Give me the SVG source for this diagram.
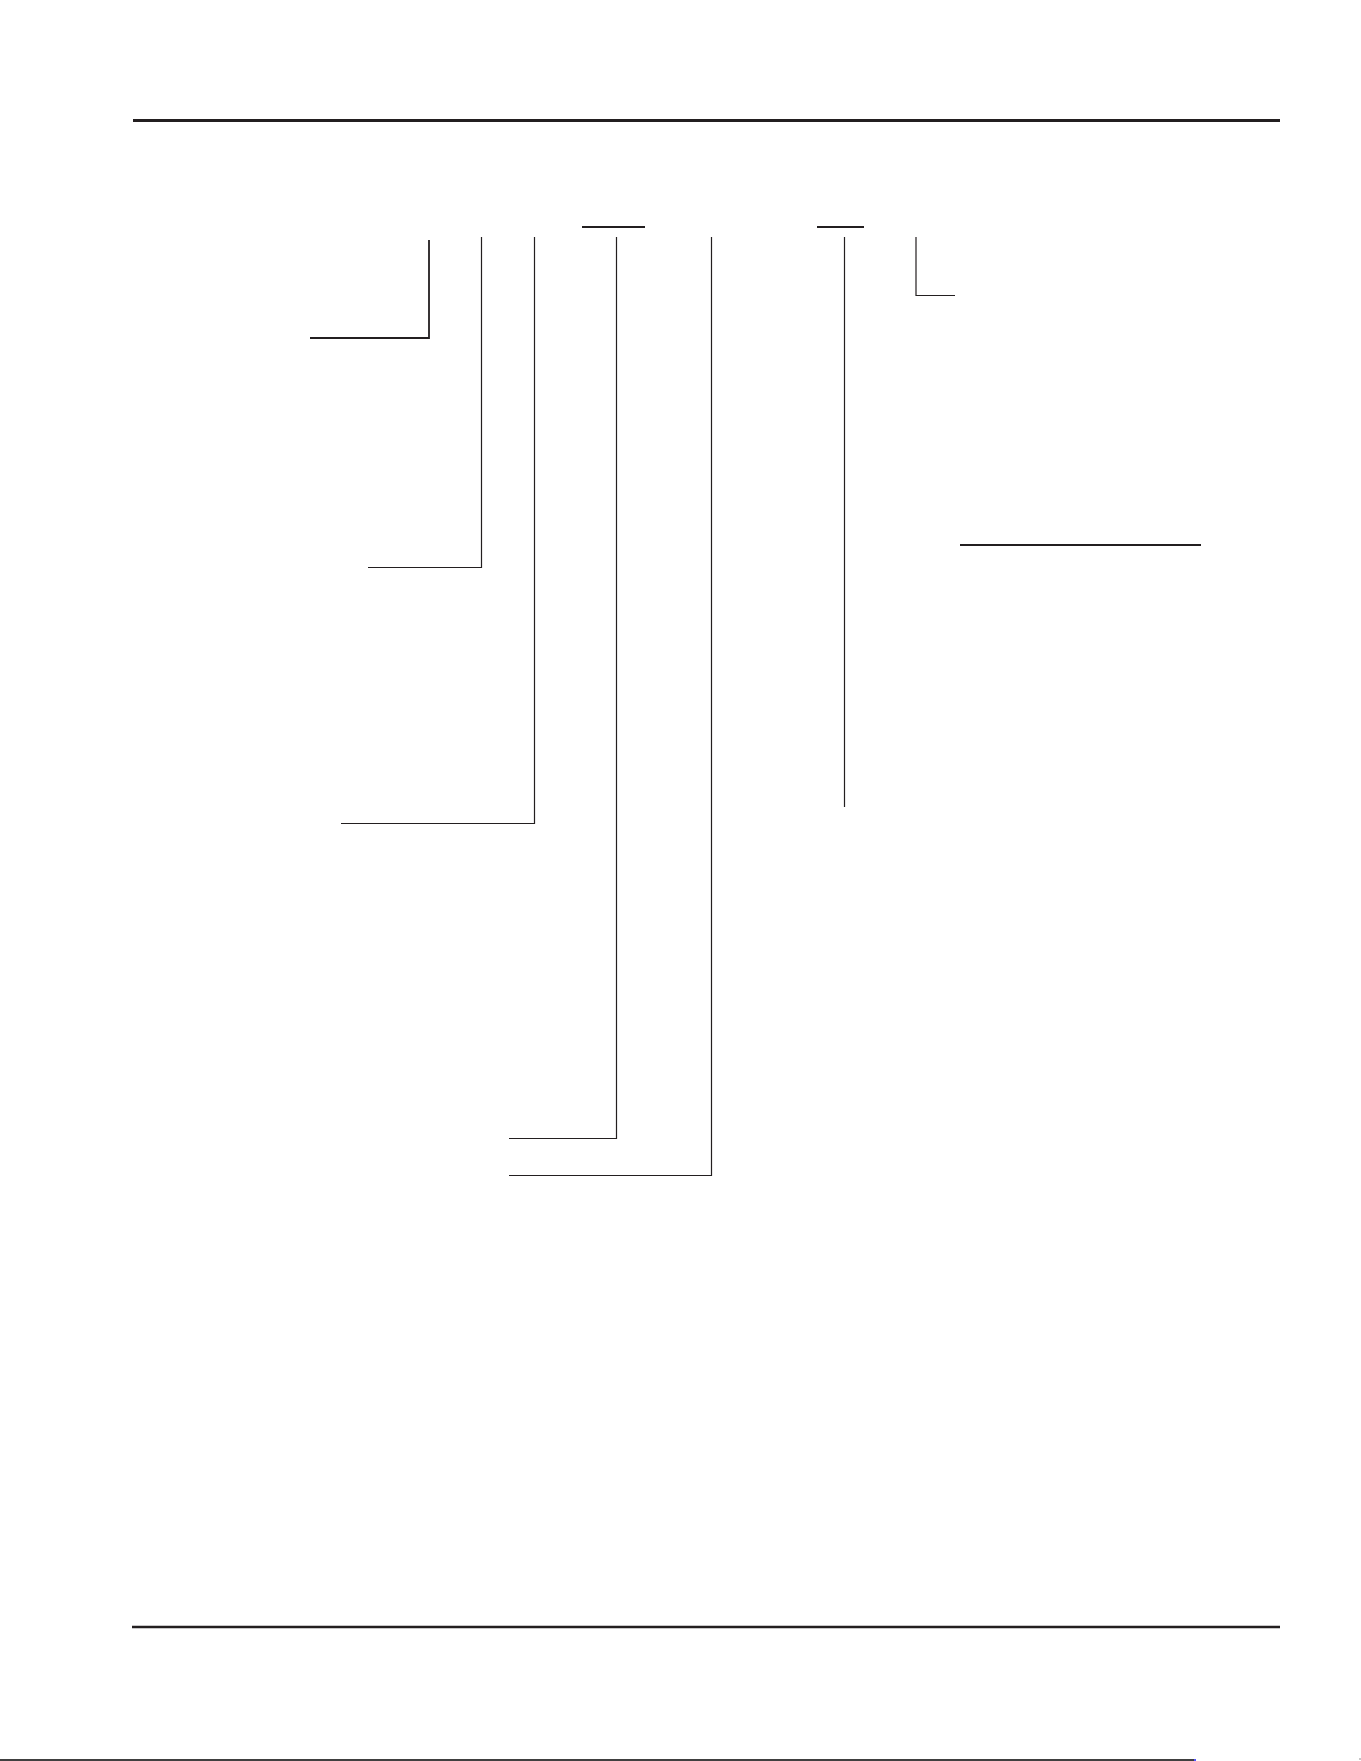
<svg xmlns="http://www.w3.org/2000/svg" width="1361" height="1761" viewBox="0 0 1361 1761">
<style>
.ln{fill:none;stroke:#231f20;stroke-width:1.2;stroke-linecap:butt;stroke-linejoin:miter}
.rule{fill:none;stroke:#231f20;stroke-width:3}
.ul{fill:none;stroke:#231f20;stroke-width:2}
</style>
<rect x="0" y="0" width="1361" height="1761" fill="#ffffff"/>
<g id="page-rules">
<line class="rule" x1="133" y1="120.5" x2="1280" y2="120.5"/>
<line class="rule" x1="132" y1="1627" x2="1280" y2="1627" style="stroke-width:2.5"/>
<line x1="0" y1="1760" x2="1194" y2="1760" stroke="#000000" stroke-width="1.5"/>
<line x1="1194" y1="1760" x2="1196" y2="1760" stroke="#1a1aff" stroke-width="1.5"/>
<rect x="1359.5" y="1758.5" width="1" height="1" fill="#231f20"/>
</g>
<g id="underlines">
<line class="ul" x1="582" y1="227" x2="645" y2="227"/>
<line class="ul" x1="817" y1="227" x2="864" y2="227"/>
<line class="ul" x1="960" y1="545" x2="1201" y2="545"/>
</g>
<g id="connectors">
<polyline class="ln" style="stroke-width:1.8" points="429,240 429,338 310,338"/>
<polyline class="ln" points="481.5,237 481.5,567.5 368,567.5"/>
<polyline class="ln" points="534.5,237 534.5,823.5 341,823.5"/>
<polyline class="ln" points="616.5,237 616.5,1138.5 509,1138.5"/>
<polyline class="ln" points="711.5,237 711.5,1175.5 509,1175.5"/>
<line class="ln" x1="844.5" y1="237" x2="844.5" y2="807"/>
<polyline class="ln" points="916,237 916,295.5 955,295.5"/>
</g>
</svg>
